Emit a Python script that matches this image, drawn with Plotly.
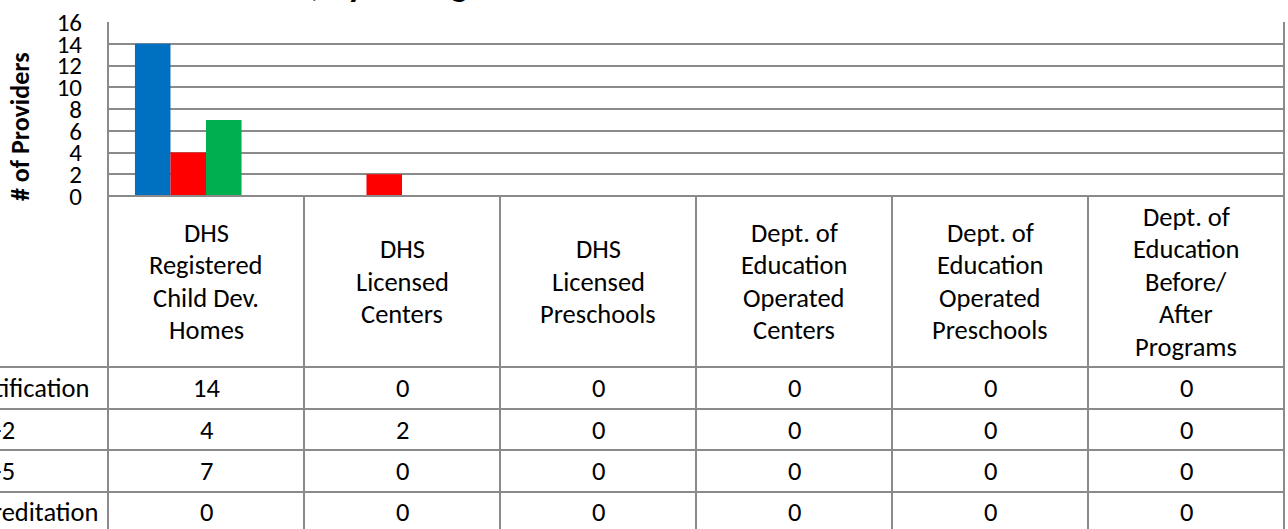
import plotly.graph_objects as go

categories = [
    "DHS<br>Registered<br>Child Dev.<br>Homes",
    "DHS<br>Licensed<br>Centers",
    "DHS<br>Licensed<br>Preschools",
    "Dept. of<br>Education<br>Operated<br>Centers",
    "Dept. of<br>Education<br>Operated<br>Preschools",
    "Dept. of<br>Education<br>Before/<br>After<br>Programs",
]
series_names = ["Certification", "Level 1-2", "Level 3-5", "Accreditation"]
certification = [14, 0, 0, 0, 0, 0]
level_1_2 = [4, 2, 0, 0, 0, 0]
level_3_5 = [7, 0, 0, 0, 0, 0]
accreditation = [0, 0, 0, 0, 0, 0]
series_values = [certification, level_1_2, level_3_5, accreditation]
series_colors = ["#0070C0", "#FF0000", "#00B050", "#7030A0"]
y_ticks = [0, 2, 4, 6, 8, 10, 12, 14, 16]
title_text = "Providers, by Rating"
y_title = "# of Providers"

W, H = 1288, 529
L, R, T, B = 108, 4, 22, 333
PW = W - L - R
PH = H - T - B
FONT = "Carlito, Calibri, Lato, sans-serif"
GRID = "#8a8a8a"
FS = 26.5


def px_x(px):
    return (px - L) / PW


def px_y(py):
    return (H - B - py) / PH


xs = list(range(len(categories)))
fig = go.Figure()
for name, vals, col in zip(series_names, series_values, series_colors):
    fig.add_trace(go.Bar(x=xs, y=vals, name=name, marker=dict(color=col, line=dict(width=0))))

fig.update_layout(
    width=W, height=H,
    margin=dict(l=L, r=R, t=T, b=B, pad=0),
    paper_bgcolor="white", plot_bgcolor="white",
    barmode="group", bargap=0.275, bargroupgap=0,
    showlegend=False,
    font=dict(family=FONT, size=FS, color="black"),
)
fig.update_xaxes(range=[-0.5, len(categories) - 0.5], showticklabels=False, showgrid=False,
                 zeroline=False, showline=False, ticks="")
fig.update_yaxes(range=[0, 16], tickvals=y_ticks, ticktext=[str(v) for v in y_ticks],
                 showgrid=True, gridcolor=GRID, gridwidth=2, zeroline=False,
                 showline=False, ticks="outside", ticklen=20, tickcolor="rgba(0,0,0,0)",
                 tickfont=dict(size=25, family=FONT, color="black"))

shapes = []
lw = dict(color=GRID, width=2)
shapes.append(dict(type="line", xref="paper", yref="paper", x0=0, x1=0, y0=1, y1=px_y(H + 5), line=lw))
shapes.append(dict(type="line", xref="paper", yref="paper", x0=px_x(1284), x1=px_x(1284), y0=1, y1=px_y(H + 5), line=lw))
shapes.append(dict(type="line", xref="paper", yref="paper", x0=0, x1=px_x(1284), y0=0, y1=0, line=lw))
for k in range(1, len(categories)):
    shapes.append(dict(type="line", xref="x", yref="paper", x0=k - 0.5, x1=k - 0.5, y0=0, y1=px_y(H + 5), line=lw))
row_lines = [367, 409, 450, 492]
for py in row_lines:
    shapes.append(dict(type="line", xref="paper", yref="paper", x0=px_x(-5), x1=px_x(1284), y0=px_y(py), y1=px_y(py), line=lw))
fig.update_layout(shapes=shapes)

ann = []
line_gap = 32.5
center_y = 281.5
for i, cat in enumerate(categories):
    lines = cat.split("<br>")
    n = len(lines)
    for j, ln in enumerate(lines):
        py = center_y + (j - (n - 1) / 2) * line_gap
        ann.append(dict(x=i, xref="x", y=px_y(py), yref="paper", text=ln, showarrow=False,
                        xanchor="center", yanchor="middle", font=dict(size=FS, family=FONT)))
row_centers = [388, 429.5, 471, 512]
for r, vals in enumerate(series_values):
    for i, v in enumerate(vals):
        ann.append(dict(x=i, xref="x", y=px_y(row_centers[r]), yref="paper", text=str(v), showarrow=False,
                        xanchor="center", yanchor="middle", font=dict(size=FS, family=FONT)))
name_right = [91, 17, 17, 101]
for r, nm in enumerate(series_names):
    ann.append(dict(x=px_x(name_right[r]), xref="paper", y=px_y(row_centers[r]), yref="paper", text=nm,
                    showarrow=False, xanchor="right", yanchor="middle", font=dict(size=FS, family=FONT)))
ann.append(dict(x=px_x(20), xref="paper", y=px_y(127), yref="paper", text="<b>" + y_title + "</b>",
                showarrow=False, textangle=-90, xanchor="center", yanchor="middle",
                font=dict(size=26, family=FONT)))
ann.append(dict(x=px_x(470), xref="paper", y=px_y(-16), yref="paper", text="<b>" + title_text + "</b>",
                showarrow=False, xanchor="right", yanchor="middle", font=dict(size=36, family=FONT)))
fig.update_layout(annotations=ann)

fig.write_html("out.html", config={"displayModeBar": False},
               post_script="document.body.style.margin='0';document.body.style.overflow='hidden';")
